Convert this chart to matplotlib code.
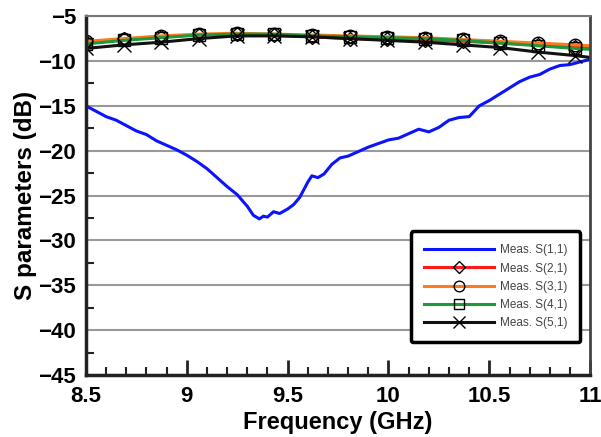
import matplotlib
matplotlib.use("Agg")
import matplotlib.pyplot as plt
from matplotlib.ticker import MultipleLocator

plt.rcParams['font.family'] = ['Liberation Sans', 'DejaVu Sans']

# S(1,1)
f11 = [8.50, 8.55, 8.60, 8.65, 8.70, 8.75, 8.80, 8.85, 8.90, 8.95,
       9.00, 9.05, 9.10, 9.15, 9.20, 9.25, 9.30, 9.33, 9.36, 9.38,
       9.40, 9.43, 9.46, 9.50, 9.53, 9.56, 9.60, 9.62, 9.65, 9.68,
       9.72, 9.76, 9.80, 9.85, 9.90, 9.95, 10.00, 10.05, 10.10, 10.15,
       10.20, 10.25, 10.30, 10.35, 10.40, 10.45, 10.50, 10.55, 10.60, 10.65,
       10.70, 10.75, 10.80, 10.85, 10.90, 10.95, 11.00]
s11 = [-15.0, -15.6, -16.2, -16.6, -17.2, -17.8, -18.2, -18.9, -19.4, -19.9,
       -20.5, -21.2, -22.0, -23.0, -24.0, -24.9, -26.2, -27.2, -27.6, -27.3,
       -27.4, -26.8, -27.0, -26.5, -26.0, -25.2, -23.5, -22.8, -23.0, -22.6,
       -21.5, -20.8, -20.6, -20.1, -19.6, -19.2, -18.8, -18.6, -18.1, -17.6,
       -17.9, -17.4, -16.6, -16.3, -16.2, -15.0, -14.4, -13.7, -13.0, -12.3,
       -11.8, -11.5, -10.9, -10.5, -10.4, -10.1, -9.8]

# transmission curves, sampled at the marker positions
fm = [8.5, 8.687, 8.873, 9.06, 9.247, 9.433, 9.62, 9.807, 9.993, 10.18,
      10.367, 10.553, 10.74, 10.927, 11.0]
s21 = [-7.9, -7.6, -7.3, -7.1, -7.0, -7.1, -7.3, -7.5, -7.6, -7.7, -7.8, -8.0, -8.2, -8.4, -8.5]
s31 = [-7.8, -7.5, -7.2, -7.0, -6.9, -7.0, -7.1, -7.2, -7.3, -7.4, -7.6, -7.8, -8.0, -8.2, -8.3]
s41 = [-8.1, -7.7, -7.4, -7.1, -7.0, -7.0, -7.2, -7.3, -7.4, -7.5, -7.7, -8.0, -8.3, -8.6, -8.7]
s51 = [-8.6, -8.2, -7.9, -7.5, -7.2, -7.2, -7.3, -7.5, -7.7, -7.9, -8.2, -8.5, -9.0, -9.4, -9.6]

fig = plt.figure(figsize=(6.01, 4.37), dpi=100)
ax = fig.add_axes([0.143, 0.142, 0.839, 0.821])

mk = dict(markerfacecolor='none', markeredgecolor='black', markeredgewidth=1.0,
          markevery=list(range(len(fm) - 1)), linewidth=2.2)
ax.plot(f11, s11, color='#0a14ff', linewidth=2.2, label='Meas. S(1,1)')
ax.plot(fm, s21, color='#ff1a1a', marker='D', markersize=7, label='Meas. S(2,1)', **mk)
ax.plot(fm, s31, color='#ff7a1a', marker='o', markersize=9, label='Meas. S(3,1)', **mk)
ax.plot(fm, s41, color='#1a9a3a', marker='s', markersize=9, label='Meas. S(4,1)', **mk)
ax.plot(fm, s51, color='#111111', marker='x', markersize=9.5, label='Meas. S(5,1)', **mk)

ax.set_xlim(8.5, 11)
ax.set_ylim(-45, -5)
ax.xaxis.set_major_locator(MultipleLocator(0.5))
ax.xaxis.set_minor_locator(MultipleLocator(0.1))
ax.yaxis.set_major_locator(MultipleLocator(5))
ax.yaxis.set_minor_locator(MultipleLocator(2.5))
ax.set_xticks([8.5, 9, 9.5, 10, 10.5, 11])
ax.set_xticklabels(['8.5', '9', '9.5', '10', '10.5', '11'])
ax.tick_params(which='both', direction='in', labelsize=16, width=2, color='#222222')
ax.tick_params(which='major', length=11)
ax.tick_params(which='minor', length=6, width=1.5)
ax.tick_params(axis='x', which='major', pad=8)
ax.tick_params(axis='y', which='major', length=0, pad=7)
for lab in ax.get_xticklabels() + ax.get_yticklabels():
    lab.set_fontweight('bold')
ax.grid(axis='y', which='major', color='#999999', linewidth=1.5)
ax.set_axisbelow(True)

for s in ['left', 'bottom']:
    ax.spines[s].set_linewidth(2.5)
    ax.spines[s].set_color('#222222')
ax.spines['right'].set_linewidth(2.0)
ax.spines['right'].set_color('#444444')
ax.spines['top'].set_linewidth(1.5)
ax.spines['top'].set_color('#777777')

ax.set_xlabel('Frequency (GHz)', fontsize=17, fontweight='bold', labelpad=3)
ax.set_ylabel('S parameters (dB)', fontsize=17.5, fontweight='bold', labelpad=1)

leg = ax.legend(loc='lower right', bbox_to_anchor=(0.98, 0.092), borderaxespad=0,
                fontsize=8.5, handlelength=5.9, handletextpad=0.5, labelspacing=0.52,
                fancybox=True, framealpha=1, edgecolor='black', borderpad=1.1,
                markerscale=0.85)
leg.get_frame().set_linewidth(2.5)
for t in leg.get_texts():
    t.set_color('#444444')

fig.savefig('out.png', dpi=100)
